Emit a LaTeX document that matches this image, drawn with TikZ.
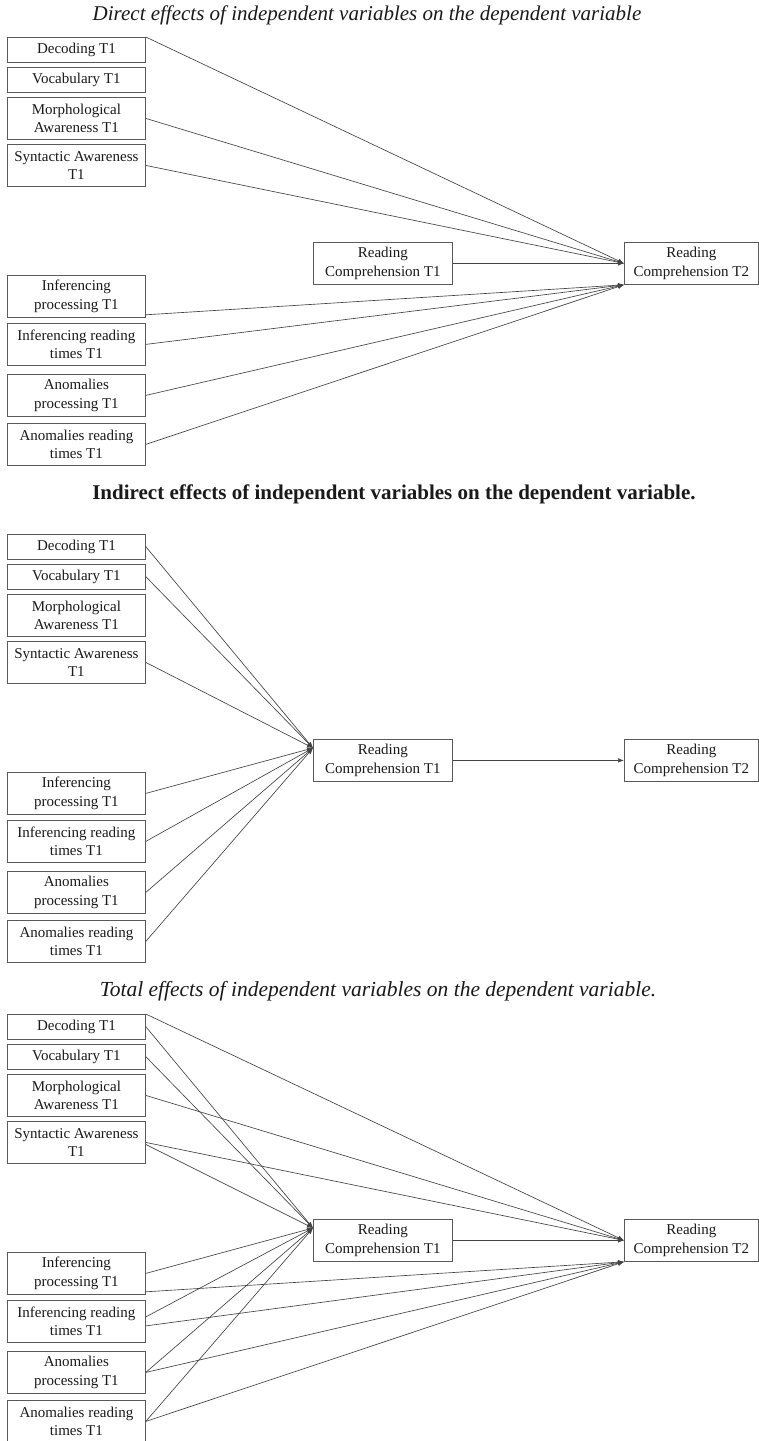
\documentclass[tikz,border=0pt]{standalone}
\usepackage{fontspec}
\setmainfont{Liberation Serif}
\usetikzlibrary{arrows.meta,calc}
\definecolor{linec}{HTML}{444444}
\definecolor{boxc}{HTML}{5A5A5A}
\definecolor{txt}{HTML}{1A1A1A}
\tikzset{
  varbox/.style={draw=boxc, line width=0.8pt, anchor=north west, inner sep=0pt,
    align=center, text=txt, font=\fontsize{15}{18.5}\selectfont},
  lbox/.style={varbox, minimum width=138pt},
  onebox/.style={lbox, minimum height=24.5pt},
  twobox/.style={lbox, minimum height=42pt},
  rcbox/.style={varbox, minimum width=139pt, minimum height=42pt},
  conn/.style={draw=linec, line width=0.65pt, -{Latex[length=6pt,width=4.5pt]}},
  ttl/.style={inner sep=0pt, text=txt}
}
\newcommand\mkleftcol[2]{%
  \node[onebox] (#1dec) at (7,37+#2) {Decoding T1};
  \node[onebox] (#1voc) at (7,67+#2) {Vocabulary T1};
  \node[twobox] (#1mor) at (7,97+#2) {Morphological\\Awareness T1};
  \node[twobox] (#1syn) at (7,144+#2) {Syntactic Awareness\\T1};
  \node[twobox] (#1ipr) at (7,275+#2) {Inferencing\\processing T1};
  \node[twobox] (#1ird) at (7,323+#2) {Inferencing reading\\times T1};
  \node[twobox] (#1apr) at (7,374+#2) {Anomalies\\processing T1};
  \node[twobox] (#1ard) at (7,423+#2) {Anomalies reading\\times T1};
  \node[rcbox] (#1rca) at (313,242+#2) {Reading\\Comprehension T1};
  \node[rcbox, minimum width=134pt] (#1rcb) at (624,242+#2) {Reading\\Comprehension T2};
}
\begin{document}
\begin{tikzpicture}[x=1pt,y=-1pt]
\useasboundingbox (0,0) rectangle (758,1441);
\fill[white] (0,0) rectangle (758,1441);

% ---------- Panel 1: direct effects ----------
\node[ttl, font=\fontsize{21}{24}\selectfont\itshape] (t1) at (367,15)
  {Direct effects of independent variables on the dependent variable};
\mkleftcol{a}{0}
\draw[conn] (adec.north east) -- (arcb.west);
\draw[conn] (amor.east) -- (arcb.west);
\draw[conn] (asyn.east) -- (arcb.west);
\draw[conn] (arca.east) -- (arcb.west);
\draw[conn] ($(aipr.south east)+(0,-3)$) -- (arcb.south west);
\draw[conn] (aird.east) -- (arcb.south west);
\draw[conn] (aapr.east) -- (arcb.south west);
\draw[conn] (aard.east) -- (arcb.south west);

% ---------- Panel 2: indirect effects ----------
\node[ttl, font=\fontsize{21}{24}\selectfont\bfseries] (t2) at (394,494)
  {Indirect effects of independent variables on the dependent variable.};
\mkleftcol{b}{497}
\coordinate (bhub) at ($(brca.north west)+(0,9)$);
\draw[conn] (bdec.east) -- (bhub);
\draw[conn] (bvoc.east) -- (bhub);
\draw[conn] (bsyn.east) -- (bhub);
\draw[conn] (bipr.east) -- (bhub);
\draw[conn] (bird.east) -- (bhub);
\draw[conn] (bapr.east) -- (bhub);
\draw[conn] (bard.east) -- (bhub);
\draw[conn] (brca.east) -- (brcb.west);

% ---------- Panel 3: total effects ----------
\node[ttl, font=\fontsize{21.5}{24}\selectfont\itshape] (t3) at (378,991)
  {Total effects of independent variables on the dependent variable.};
\mkleftcol{c}{977}
\coordinate (chub) at ($(crca.north west)+(0,9)$);
% to Reading Comprehension T2
\draw[conn] (cdec.north east) -- (crcb.west);
\draw[conn] (cmor.east) -- (crcb.west);
\draw[conn] (csyn.east) -- (crcb.west);
\draw[conn] (crca.east) -- (crcb.west);
\draw[conn] ($(cipr.south east)+(0,-3)$) -- (crcb.south west);
\draw[conn] ($(cird.east)+(0,4.5)$) -- (crcb.south west);
\draw[conn] (capr.east) -- (crcb.south west);
\draw[conn] (card.east) -- (crcb.south west);
% to Reading Comprehension T1
\draw[conn] (cdec.east) -- (chub);
\draw[conn] (cvoc.east) -- (chub);
\draw[conn] ($(csyn.east)+(0,2)$) -- (chub);
\draw[conn] (cipr.east) -- (chub);
\draw[conn] ($(cird.east)+(0,-4.5)$) -- (chub);
\draw[conn] (capr.east) -- (chub);
\draw[conn] (card.east) -- (chub);
\end{tikzpicture}
\end{document}
